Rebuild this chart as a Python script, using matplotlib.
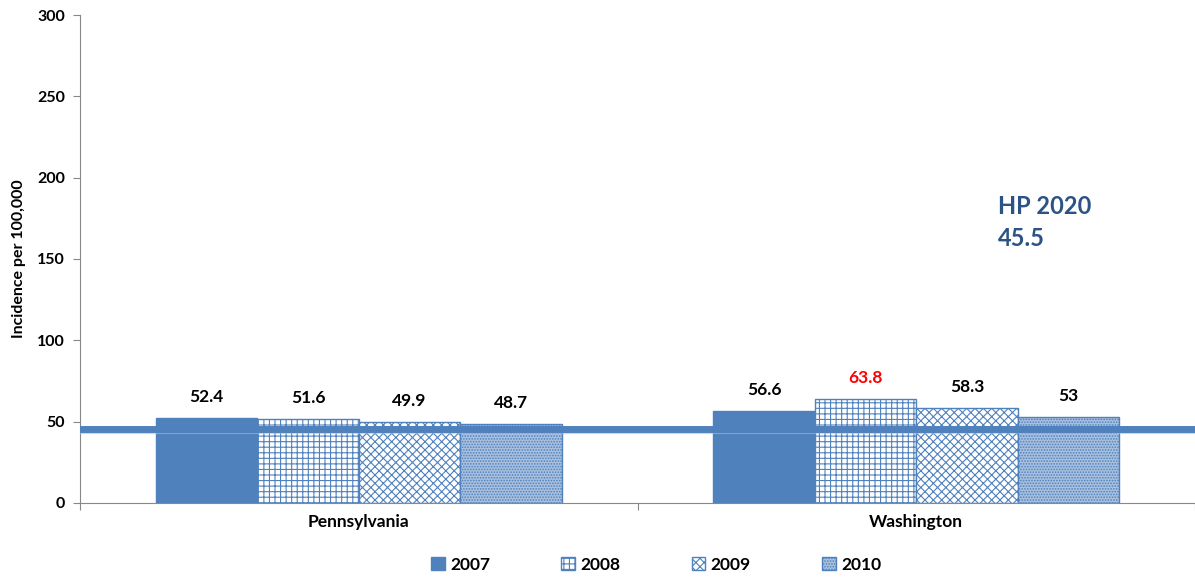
import numpy as np
import matplotlib.pyplot as plt
from matplotlib.patches import Patch

plt.rcParams['font.family'] = ['Lato', 'DejaVu Sans']
plt.rcParams['hatch.linewidth'] = 0.8

# data
regions = ['Pennsylvania', 'Washington']
years = ['2007', '2008', '2009', '2010']
values = {
    '2007': [52.4, 56.6],
    '2008': [51.6, 63.8],
    '2009': [49.9, 58.3],
    '2010': [48.7, 53],
}
hp_target = 45.5
hp_label = 'HP 2020\n45.5'
y_ticks = [0, 50, 100, 150, 200, 250, 300]

blue = '#4F81BD'
styles = {
    '2007': dict(facecolor=blue, hatch=None),
    '2008': dict(facecolor='white', hatch='+++'),
    '2009': dict(facecolor='white', hatch='xxxx'),
    '2010': dict(facecolor='#A9C0DE', hatch='......'),
}

fig = plt.figure(figsize=(11.95, 5.78), dpi=100)
ax = fig.add_axes([0.067, 0.13, 0.933, 0.844])

x = np.arange(len(regions))
w = 0.182
for i, yr in enumerate(years):
    pos = x + (i - 1.5) * w
    st = styles[yr]
    ax.bar(pos, values[yr], width=w, facecolor=st['facecolor'], edgecolor=blue,
           hatch=st['hatch'], linewidth=1.0, zorder=2, label=yr)
    for px, v in zip(pos, values[yr]):
        col = 'red' if (yr == '2008' and v == 63.8) else 'black'
        ax.text(px, v + 8, f'{v:g}', ha='center', va='bottom', fontsize=12.5,
                fontweight='bold', color=col, zorder=5)

# HP 2020 target line with soft shadow
ax.axhline(hp_target - 1.8, color='#BBBBBB', linewidth=3, alpha=0.6, zorder=3)
ax.axhline(hp_target, color=blue, linewidth=5, zorder=4)
ax.text(0.823, 0.575, hp_label, transform=ax.transAxes, fontsize=17,
        fontweight='bold', color='#2C5385', ha='left', va='center', linespacing=1.45)

ax.set_xlim(-0.5, 1.5)
ax.set_ylim(0, 300)
ax.set_yticks(y_ticks)
ax.set_yticklabels([str(t) for t in y_ticks], fontsize=11.5, fontweight='bold')
ax.set_ylabel('Incidence per 100,000', fontsize=11.5, fontweight='bold', labelpad=8)

ax.set_xticks([-0.5, 0.5, 1.5])
ax.set_xticklabels([])
ax.set_xticks(x, minor=True)
ax.set_xticklabels(regions, minor=True, fontsize=12.5, fontweight='bold')
ax.tick_params(axis='x', which='minor', length=0, pad=8)
ax.tick_params(axis='x', which='major', length=5, color='#888888')
ax.tick_params(axis='y', length=5, color='#888888', pad=6)

for s in ['top', 'right']:
    ax.spines[s].set_visible(False)
ax.spines['left'].set_color('#888888')
ax.spines['bottom'].set_color('#888888')

handles = [Patch(facecolor=styles[yr]['facecolor'], edgecolor=blue,
                 hatch=styles[yr]['hatch'], label=yr) for yr in years]
leg = fig.legend(handles=handles, loc='lower center', ncol=4, frameon=False,
                 bbox_to_anchor=(0.549, -0.018), prop={'weight': 'bold', 'size': 12.5},
                 handlelength=0.8, handleheight=0.8, handletextpad=0.3, columnspacing=4.1)

fig.savefig('out.png', dpi=100, facecolor='white')
